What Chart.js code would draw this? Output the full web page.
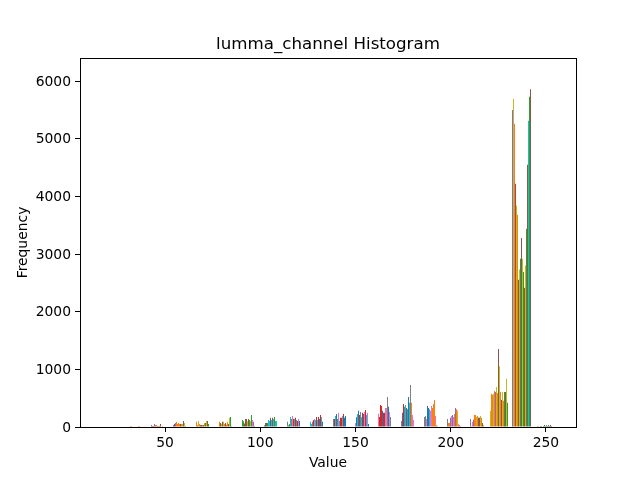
<!DOCTYPE html>
<html>
<head>
<meta charset="utf-8">
<script src="https://cdn.jsdelivr.net/npm/chart.js@4"></script>
<style>
html,body{margin:0;padding:0;background:#fff}
canvas{display:block}
</style>
</head>
<body>
<canvas id="hist" width="640" height="480"></canvas>
<script>
// one list per histogram bin, one entry per visible column of the bin
const bin01=[0,0,0,0,0,0,0,0,0,18,18,0,0,0,0,0,0,18,18];
const bin02=[0,0,0,0,0,0,0,35,18,18,50,35,35,18,18,18,50,0,18];
const bin03=[0,0,0,0,0,0,35,50,70,90,50,70,50,50,50,50,105,70,18];
const bin04=[0,0,0,0,0,0,90,35,105,50,35,35,35,35,70,70,105,105,50];
const bin05=[0,0,0,0,0,0,90,70,50,90,90,50,70,35,90,50,160,175,18];
const bin06=[0,0,0,0,0,0,120,100,60,140,140,100,140,120,100,210,120,90,18];
const bin07=[0,0,0,0,0,35,70,70,70,120,105,160,120,160,140,175,105,105,0];
const bin08=[0,0,0,0,0,90,35,50,175,140,190,140,140,160,120,105,140,105,0];
const bin09=[0,0,0,0,0,90,50,90,120,140,120,175,120,175,140,210,175,90,0];
const bin10=[0,0,0,0,0,140,140,190,225,140,245,105,160,160,190,225,160,190,0];
const bin11=[0,0,0,0,70,170,225,280,210,260,170,245,225,260,295,210,245,50,0];
const bin12=[0,0,0,0,230,175,380,365,280,245,245,330,330,520,350,260,175,0,0];
const bin13=[0,0,0,0,105,245,400,350,380,330,310,520,420,730,420,210,120,0,0];
const bin14=[0,0,0,0,175,190,140,365,330,310,280,365,330,400,470,190,35,18,0];
const bin15=[0,0,0,0,140,70,70,160,190,210,175,225,330,310,280,50,35,18,0];
const bin16=[0,0,0,0,140,18,90,130,210,210,175,190,160,160,190,160,70,35,0];
const bin17=[0,280,575,560,575,625,605,695,590,1355,1055,605,470,605,455,605,605,835,420];
const bin18=[5500,5690,5260,4220,3840,3680,2555,2730,2920,3280,2920,2690,2415,2800,3440,4550,5310,5730,5860];
const bin19=[0,0,18,18,0,18,18,0,18,35,18,35,18,35,18,35,18,0,0];
const bins=[bin01,bin02,bin03,bin04,bin05,bin06,bin07,bin08,bin09,bin10,bin11,bin12,bin13,bin14,bin15,bin16,bin17,bin18,bin19];

// left edge of each bin on the value axis
const binStarts=[27.1625,39.2375,51.3125,63.3875,75.4625,87.5375,99.6125,111.6875,123.7625,135.8375,147.9125,159.9875,172.0625,184.1375,196.2125,208.2875,220.3625,232.4375,244.5125];
const xTicks=[50,100,150,200,250];
const yTicks=[0,1000,2000,3000,4000,5000,6000];

// colour letter per column, same order as the bins
const binColours=[
'.........oo......oo',
'.......pnnpoogonn.o',
'......pnpoooonolnlg',
'......oolonnonoglng',
'......onlnlonoonlgc',
'......ggnnnlnglgkpg',
'.....cnngccncncgcc.',
'.....ycgcykrcryrkb.',
'.....ccyrkcrcrbrcb.',
'.....yrcbykcrrcrbb.',
'....kbcbrycrbkrckb.',
'....krrrbrrkkybky..',
'....ybrycbybcyokk..',
'....yykbbckkoookll.',
'....yooykpkopolkoo.',
'....yokpoolonnlonl.',
'.looloplonlonlognlg',
'plonlonlgnlgnlgncgn',
'..oo.gg.nngcgngnng.'
];
const palette={b:'#1f77b4',o:'#ff7f0e',g:'#2ca02c',r:'#d62728',p:'#9467bd',n:'#8c564b',k:'#e377c2',y:'#7f7f7f',l:'#bcbd22',c:'#17becf'};

const barStep=0.525;
const points=[],colours=[];
bins.forEach((bin,b)=>{
  bin.forEach((v,i)=>{
    if(!v) return;
    points.push({x:binStarts[b]+i*barStep,y:v});
    colours.push(palette[binColours[b][i]]||palette.o);
  });
});

const frame={
  id:'frame',
  afterDatasetsDraw(chart){
    const a=chart.chartArea,ctx=chart.ctx;
    ctx.save();
    ctx.strokeStyle='#000';
    ctx.lineWidth=1;
    ctx.strokeRect(a.left+0.5,a.top+0.5,a.right-a.left,a.bottom-a.top);
    ctx.restore();
  }
};

const fontName='"DejaVu Sans"';
Chart.defaults.animation=false;
new Chart(document.getElementById('hist'),{
  type:'bar',
  data:{datasets:[{data:points,backgroundColor:colours,borderWidth:0,barThickness:1,inflateAmount:0}]},
  plugins:[frame],
  options:{
    responsive:false,
    devicePixelRatio:1,
    layout:{padding:{right:64}},
    plugins:{
      legend:{display:false},
      tooltip:{enabled:false},
      title:{display:true,text:'lumma_channel Histogram',color:'#000',fullSize:false,font:{family:fontName,size:16.67,weight:'normal'},padding:{top:35,bottom:3}}
    },
    scales:{
      x:{
        type:'linear',min:5.375,max:265.775,offset:false,
        afterBuildTicks(s){s.ticks=xTicks.map(v=>({value:v}));},
        afterFit(s){s.height=53;},
        grid:{drawOnChartArea:false,drawTicks:true,tickLength:5,color:'#000',lineWidth:1,offset:false},
        border:{display:false},
        ticks:{color:'#000',font:{family:fontName,size:13.89},padding:3,maxRotation:0},
        title:{display:true,text:'Value',color:'#000',font:{family:fontName,size:13.89},padding:{top:2,bottom:8}}
      },
      y:{
        min:0,max:6400,
        afterBuildTicks(s){s.ticks=yTicks.map(v=>({value:v}));},
        afterFit(s){s.width=80;},
        grid:{drawOnChartArea:false,drawTicks:true,tickLength:5,color:'#000',lineWidth:1},
        border:{display:false},
        ticks:{color:'#000',font:{family:fontName,size:13.89},padding:4,labelOffset:1,callback:v=>String(v)},
        title:{display:true,text:'Frequency',color:'#000',font:{family:fontName,size:13.89},padding:{top:15,bottom:6}}
      }
    }
  }
});
</script>
</body>
</html>
